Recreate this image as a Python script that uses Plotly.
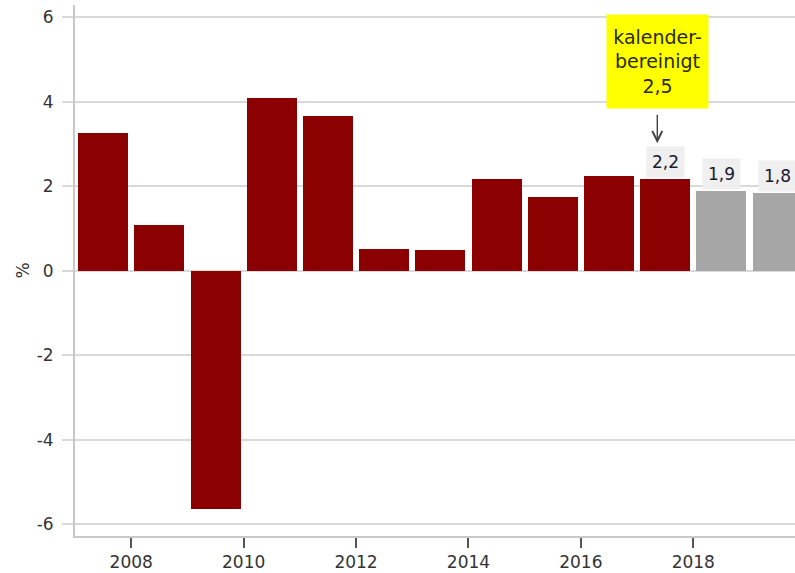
import plotly.graph_objects as go

# ---- data ----
actual_years = [2007, 2008, 2009, 2010, 2011, 2012, 2013, 2014, 2015, 2016, 2017]
actual_growth = [3.26, 1.09, -5.63, 4.09, 3.67, 0.51, 0.48, 2.18, 1.74, 2.24, 2.16]
forecast_years = [2018, 2019]
forecast_growth = [1.89, 1.83]
labelled_years = [2017, 2018, 2019]
calendar_adjusted_year = 2017
calendar_adjusted_value = 2.5
x_tick_years = [2008, 2010, 2012, 2014, 2016, 2018]
y_tick_values = [-6, -4, -2, 0, 2, 4, 6]

FONT = "DejaVu Sans"
DARK_RED = "#8b0000"
GREY_BAR = "#a6a6a6"
GRID = "#d9d9d9"
AXIS = "#c8c8c8"
TEXT = "#333333"


def fmt(v):
    return f"{v:.1f}".replace(".", ",")


all_years = actual_years + forecast_years
all_values = actual_growth + forecast_growth
value_of = dict(zip(all_years, all_values))

fig = go.Figure()
fig.add_trace(go.Bar(
    x=[y + 0.5 for y in actual_years], y=actual_growth, width=0.89,
    marker=dict(color=DARK_RED, line=dict(width=0)), showlegend=False,
))
fig.add_trace(go.Bar(
    x=[y + 0.5 for y in forecast_years], y=forecast_growth, width=0.89,
    marker=dict(color=GREY_BAR, line=dict(width=0)), showlegend=False,
))

annotations = []
for yr in labelled_years:
    annotations.append(dict(
        x=yr + 0.5, y=value_of[yr], xref="x", yref="y",
        text=fmt(value_of[yr]), showarrow=False,
        yanchor="bottom", yshift=1,
        bgcolor="#efefef", borderpad=5,
        font=dict(family=FONT, size=17, color="#1a1a2e"),
    ))

# arrow pointing at the 2017 bar label
annotations.append(dict(
    x=calendar_adjusted_year + 0.36, y=3.02, xref="x", yref="y",
    ax=0, ay=-30, axref="pixel", ayref="pixel",
    text="", showarrow=True, arrowhead=5, arrowsize=1.4, arrowwidth=1.4,
    arrowcolor="#444444",
))
# yellow note box
annotations.append(dict(
    x=calendar_adjusted_year + 0.36, y=4.95, xref="x", yref="y",
    text="kalender-<br>bereinigt<br>" + fmt(calendar_adjusted_value),
    showarrow=False, bgcolor="#ffff00", borderpad=0,
    width=101, height=93, align="center", valign="middle",
    font=dict(family=FONT, size=19, color="#2b2b00"),
))

fig.update_layout(
    width=795, height=573,
    margin=dict(l=75, r=0, t=5, b=37, autoexpand=False),
    paper_bgcolor="white", plot_bgcolor="white",
    font=dict(family=FONT, size=17, color=TEXT),
    bargap=0, showlegend=False,
    annotations=annotations,
    xaxis=dict(
        range=[2007, 2019.81], tickmode="array",
        tickvals=x_tick_years, ticktext=[str(y) for y in x_tick_years],
        showgrid=False, zeroline=False,
        showline=True, linecolor=AXIS, linewidth=2,
        ticks="outside", ticklen=10, tickwidth=1.5, tickcolor="#555555",
        tickfont=dict(family=FONT, size=17, color=TEXT),
    ),
    yaxis=dict(
        range=[-6.28, 6.29], tickmode="array",
        tickvals=y_tick_values, ticktext=[str(v) for v in y_tick_values],
        showgrid=True, gridcolor=GRID, gridwidth=2,
        zeroline=False,
        showline=True, linecolor=AXIS, linewidth=2,
        ticks="outside", ticklen=11, tickwidth=2, tickcolor=GRID,
        ticklabelstandoff=5,
        tickfont=dict(family=FONT, size=17, color=TEXT),
        title=dict(text="%", standoff=3, font=dict(family=FONT, size=17, color=TEXT)),
    ),
)

fig.write_html(
    "out.html",
    config={"displayModeBar": False},
    post_script="document.body.style.margin='0';document.body.style.overflow='hidden';",
)
